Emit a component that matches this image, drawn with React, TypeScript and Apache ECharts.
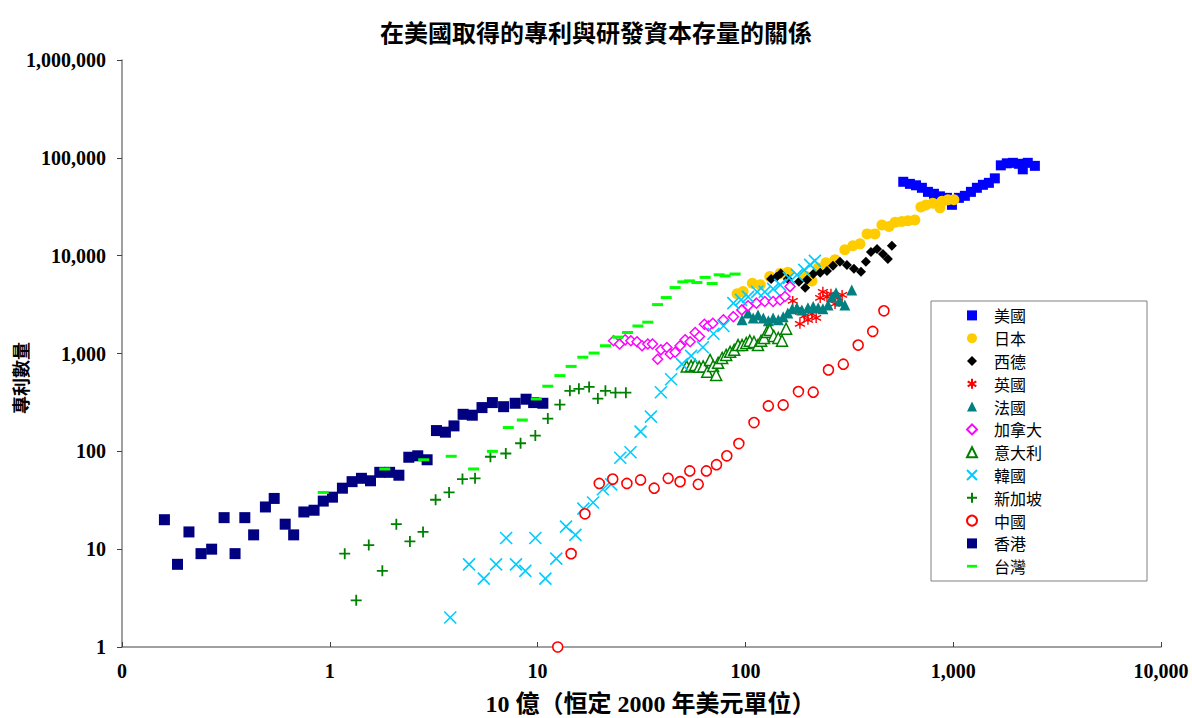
import React, { useEffect, useRef } from 'react';
import * as echarts from 'echarts';

const TITLE = '在美國取得的專利與研發資本存量的關係';
const X_NAME = '10 億（恒定 2000 年美元單位）';
const Y_NAME = '專利數量';

const SERIES_NAMES = ['美國', '日本', '西德', '英國', '法國', '加拿大', '意大利', '韓國', '新加坡', '中國', '香港', '台灣'];

const US = [[575,56900],[619,54200],[662,52400],[707,49400],[756,44900],[808,42900],[863,40400],[933,39000],[986,33100],[1065,39000],[1138,40900],[1217,44900],[1300,49400],[1390,53000],[1485,55500],[1586,61700],[1695,83800],[1811,87900],[1936,88900],[2069,86900],[2162,76300],[2285,88900],[2472,82800]];
const JAPAN = [[91.2,4070],[97.5,4300],[108,5230],[118,5030],[131,6110],[147,6590],[160,6750],[194,6210],[209,5520],[224,7500],[244,8440],[270,9060],[301,11500],[329,12600],[356,13200],[385,16700],[420,16700],[454,20600],[491,19900],[525,21900],[566,22400],[606,22700],[654,23200],[699,31500],[739,33000],[798,34300],[863,30800],[883,35900],[944,37200],[1008,37200]];
const WGERMANY = [[133,5790],[141,6070],[148,6590],[160,5790],[181,5400],[194,4690],[198,5660],[212,6510],[229,6670],[247,6990],[264,7870],[285,8650],[308,8050],[333,7330],[360,6830],[380,8650],[402,10900],[430,11700],[459,10400],[485,9270],[507,12600]];
const UK = [[169,3450],[175,2790],[183,2010],[192,2420],[200,2210],[209,2540],[219,2310],[229,3700],[236,4270],[247,3790],[258,4070],[270,3210],[279,3700],[292,3970]];
const FRANCE = [[96.4,2210],[103,2600],[109,2310],[115,2480],[122,2310],[129,2160],[136,2310],[144,2210],[152,2370],[160,2600],[168,2860],[177,2930],[187,2790],[200,2930],[212,3030],[224,2930],[236,2860],[250,3140],[261,3790],[273,4170],[285,3450],[301,3140],[325,4470]];
const CANADA = [[23.2,1350],[24.8,1250],[26.4,1380],[28.1,1350],[30.1,1320],[31.8,1200],[33.9,1250],[35.7,1250],[37.8,874],[39.2,1090],[41.9,1150],[43.5,990],[45.9,1030],[48.5,1200],[51.3,1380],[54.2,1320],[57.3,1640],[60.1,1490],[63.5,1990],[66.4,1910],[69.7,2040],[78.4,2210],[87.5,2380],[96.1,2790],[103,3070],[113,3270],[124,3400],[136,3400],[147,3530],[155,3820],[164,4830]];
const ITALY = [[52.2,738],[54.8,747],[57.3,765],[59.9,730],[62.6,738],[65.5,649],[67.6,860],[69.9,747],[72.3,604],[73.9,802],[77.3,902],[80.8,968],[84.4,1040],[88.3,1090],[92.2,1220],[96.4,1220],[101,1280],[105,1350],[110,1310],[115,1220],[119,1350],[123,1440],[127,1660],[131,1740],[137,1510],[144,1440],[150,1350],[157,1790]];
const KOREA = [[3.8,2],[4.68,7],[5.51,5],[6.31,7],[7.06,13],[7.87,7],[8.73,6],[9.75,13],[10.9,5],[12.3,8],[13.7,17],[15.2,14],[16.6,26],[18.5,30],[20.6,41],[22.6,46],[25,86],[28,98],[31.3,159],[35.1,226],[39.2,402],[43.9,546],[49.5,778],[54.8,945],[62.4,1160],[70.2,1590],[78.4,1910],[87.5,3270],[95.3,3530],[103,3790],[114,4270],[124,4270],[136,4580],[147,5030],[162,5930],[177,6370],[192,7160],[205,8050],[216,8850]];
const SINGAPORE = [[1.18,9],[1.34,3],[1.54,11],[1.79,6],[2.09,18],[2.43,12],[2.81,15],[3.23,32],[3.75,38],[4.35,52],[5.0,53],[5.93,88],[7.03,95],[8.28,121],[9.75,145],[11.2,216],[12.8,300],[14.3,415],[15.8,435],[17.7,455],[19.5,346],[21.2,415],[23.7,398],[26.6,398]];
const CHINA = [[12.5,1],[14.5,9],[16.9,23],[19.8,47],[23,52],[26.9,47],[31.3,51],[36.4,42],[42.5,53],[48.5,49],[54,63],[59.3,46],[64.9,63],[72.6,73],[81.4,90],[93,120],[110,197],[129,291],[152,298],[180,408],[212,402],[251,680],[296,778],[349,1220],[410,1680],[464,2730]];
const HONGKONG = [[0.16,20],[0.185,7],[0.21,15],[0.24,9],[0.27,10],[0.31,21],[0.35,9],[0.39,21],[0.43,14],[0.49,27],[0.54,33],[0.61,18],[0.67,14],[0.75,24],[0.84,25],[0.93,31],[1.03,34],[1.15,42],[1.28,49],[1.42,53],[1.57,50],[1.74,61],[1.94,61],[2.15,57],[2.4,87],[2.65,90],[2.94,82],[3.26,163],[3.6,157],[3.96,182],[4.38,239],[4.85,234],[5.4,280],[6.06,315],[6.86,286],[7.8,310],[8.8,341],[9.57,315],[10.6,310]];
const TAIWAN = [[0.93,38],[1.84,66],[2.83,82],[3.84,89],[4.92,66],[6.06,100],[7.23,175],[8.44,209],[9.86,343],[11.2,463],[12.8,594],[14.5,738],[16.5,916],[18.7,1010],[21.2,1200],[24.3,1470],[27.1,1640],[30.4,1910],[33.9,2090],[37.8,3160],[41.6,3730],[45.9,4720],[50,5400],[53.8,5520],[58.4,5310],[64,6000],[69.2,5190],[74.8,6370],[79.9,6210],[89.2,6490]];

const X_MIN = 0.1;
const X_MAX = 10000;
const Y_MIN = 1;
const Y_MAX = 1000000;

const SERIF = '"Liberation Serif", "Times New Roman", "Noto Sans CJK TC", serif';
const CJK = '"Noto Sans CJK TC", "Noto Sans CJK SC", sans-serif';

const P_ASTERISK = 'path://M5,0L5,10M0.67,2.5L9.33,7.5M0.67,7.5L9.33,2.5';
const P_CROSS = 'path://M0,0L10,10M10,0L0,10';
const P_PLUS = 'path://M5,0L5,10M0,5L10,5';
const P_DASH = 'path://M0,0L11,0L11,3L0,3Z';

type Style = { symbol: string; size: number | number[]; color: string; border?: string; bw?: number };

const STYLES: Style[] = [
  { symbol: 'rect', size: 10, color: '#0000ff' },
  { symbol: 'circle', size: 11, color: '#ffcc00' },
  { symbol: 'diamond', size: 10, color: '#000000' },
  { symbol: P_ASTERISK, size: 10, color: 'rgba(0,0,0,0)', border: '#ff0000', bw: 1.4 },
  { symbol: 'triangle', size: 11, color: '#008080' },
  { symbol: 'diamond', size: 10, color: '#ffffff', border: '#ff00ff', bw: 1.5 },
  { symbol: 'triangle', size: 11, color: '#ffffff', border: '#008000', bw: 1.5 },
  { symbol: P_CROSS, size: 12, color: 'rgba(0,0,0,0)', border: '#00ccff', bw: 1.6 },
  { symbol: P_PLUS, size: 11, color: 'rgba(0,0,0,0)', border: '#008000', bw: 1.8 },
  { symbol: 'circle', size: 10, color: '#ffffff', border: '#ff0000', bw: 1.6 },
  { symbol: 'rect', size: 11, color: '#000080' },
  { symbol: P_DASH, size: [11, 3], color: '#00ff00' },
];

const DATASETS = [US, JAPAN, WGERMANY, UK, FRANCE, CANADA, ITALY, KOREA, SINGAPORE, CHINA, HONGKONG, TAIWAN];

const fmt = (v: number) => (v < 1 ? '0' : Math.round(v).toLocaleString('en-US'));

export default function App() {
  const ref = useRef<HTMLDivElement>(null);
  useEffect(() => {
    if (!ref.current) return;
    const chart = echarts.init(ref.current, undefined, { renderer: 'svg' });
    const series = DATASETS.map((d, i) => {
      const s = STYLES[i];
      return {
        name: SERIES_NAMES[i],
        type: 'scatter',
        data: d,
        symbol: s.symbol,
        symbolSize: s.size,
        itemStyle: {
          color: s.color,
          borderColor: s.border || s.color,
          borderWidth: s.bw || 0,
          opacity: 1,
        },
        emphasis: { disabled: true },
      };
    });
    chart.setOption({
      animation: false,
      backgroundColor: '#ffffff',
      title: {
        text: TITLE,
        left: 'center',
        top: 14,
        textStyle: { fontFamily: CJK, fontSize: 24, fontWeight: 'bold', color: '#000' },
      },
      legend: {
        orient: 'vertical',
        left: 966,
        top: 304,
        padding: 0,
        itemGap: 0,
        itemWidth: 10,
        itemHeight: 10,
        selectedMode: false,
        textStyle: { fontFamily: CJK, fontSize: 16, color: '#000', lineHeight: 22.8, padding: [0, 0, 0, 12] },
        data: SERIES_NAMES,
        z: 5,
      },
      grid: { left: 122, right: 31, top: 60, bottom: 71, outerBoundsMode: 'none' },
      xAxis: {
        type: 'log',
        logBase: 10,
        min: X_MIN,
        max: X_MAX,
        name: X_NAME,
        nameLocation: 'middle',
        nameGap: 45,
        nameTextStyle: { fontFamily: SERIF, fontSize: 24, fontWeight: 'bold', color: '#000', padding: [0, 0, 0, 18] },
        axisLine: { lineStyle: { color: '#808080', width: 1.5 } },
        axisTick: { inside: true, length: 5, lineStyle: { color: '#404040', width: 1 } },
        axisLabel: { formatter: fmt, fontFamily: SERIF, fontSize: 20, fontWeight: 'bold', color: '#000', margin: 14 },
        splitLine: { show: false },
        minorTick: { show: false },
      },
      yAxis: {
        type: 'log',
        logBase: 10,
        min: Y_MIN,
        max: Y_MAX,
        axisLine: { show: true, lineStyle: { color: '#808080', width: 1.5 } },
        axisTick: { show: true, inside: false, length: 5, lineStyle: { color: '#404040', width: 1 } },
        axisLabel: { formatter: fmt, fontFamily: SERIF, fontSize: 20, fontWeight: 'bold', color: '#000', margin: 16 },
        splitLine: { show: false },
      },
      graphic: [
        {
          type: 'rect',
          z: 3,
          shape: { x: 931, y: 301, width: 216, height: 280 },
          style: { fill: '#ffffff', stroke: '#808080', lineWidth: 1 },
        },
        {
          type: 'text',
          x: 20,
          y: 378,
          rotation: Math.PI / 2,
          style: {
            text: Y_NAME,
            fontFamily: CJK,
            fontSize: 18,
            fontWeight: 'bold',
            fill: '#000',
            align: 'center',
            verticalAlign: 'middle',
            textAlign: 'center',
            textVerticalAlign: 'middle',
          },
        },
      ],
      series,
    });
    return () => chart.dispose();
  }, []);
  return <div ref={ref} style={{ position: 'fixed', left: 0, top: 0, width: 1192, height: 718 }} />;
}
